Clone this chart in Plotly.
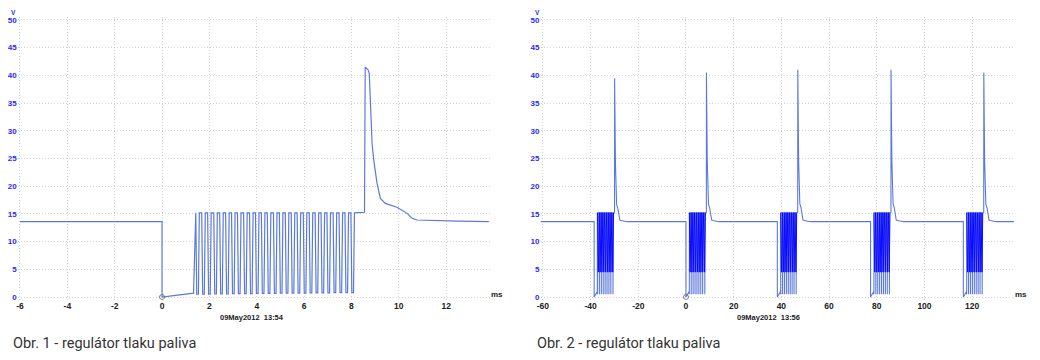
import plotly.graph_objects as go

# ---------------- data ----------------
# Obr. 1 : time (ms), voltage (V)
pre_t = [-6.0, 0.0, 0.0, 1.33]
pre_v = [13.6, 13.6, 0.0, 0.7]
pwm_high = 15.2
pwm_dips = [1.50, 1.75, 2.00, 2.26, 2.51, 2.76, 3.01, 3.26, 3.52, 3.77, 4.02, 4.27, 4.52, 4.78,
            5.03, 5.28, 5.53, 5.78, 6.04, 6.29, 6.54, 6.79, 7.04, 7.30, 7.55, 7.80, 8.05]
pwm_low = [0.5, 0.5, 0.5, 0.55, 0.55, 0.55, 0.6, 0.6, 0.6, 0.6, 0.65, 0.65, 0.65, 0.65,
           0.7, 0.7, 0.7, 0.7, 0.7, 0.75, 0.75, 0.75, 0.75, 0.8, 0.8, 0.8, 0.8]
post_t = [8.55, 8.58, 8.70, 8.75, 8.87, 8.94, 9.08, 9.22, 9.43, 9.92, 10.35, 10.56, 10.77, 11.3, 12.5, 13.8]
post_v = [15.3, 41.5, 41.0, 40.4, 27.7, 24.7, 20.5, 17.8, 16.9, 16.2, 15.1, 14.2, 13.9, 13.8, 13.7, 13.6]
base_v = 13.6

# Obr. 2 : bursts
burst_t0 = [-38.5, 0.0, 38.3, 77.4, 116.3]
burst_peak = [39.5, 40.5, 41.0, 41.0, 40.5]
burst_low_offsets = [1.4, 2.2, 3.0, 3.8, 4.6, 5.4, 6.2, 7.0, 7.9]
burst_low_v = 0.5
dense_low_v = 4.5

x1_ticks = [-6, -4, -2, 0, 2, 4, 6, 8, 10, 12]
x2_ticks = [-60, -40, -20, 0, 20, 40, 60, 80, 100, 120]
y_ticks = [0, 5, 10, 15, 20, 25, 30, 35, 40, 45, 50]

LINE = "#5b79dc"
DENSE = "#0a0aff"

# ---------------- build Obr. 1 ----------------
lt, lv = list(pre_t), list(pre_v)
for d, lo in zip(pwm_dips, pwm_low):
    lt += [d - 0.075, d - 0.035, d + 0.035, d + 0.075]
    lv += [pwm_high, lo, lo, pwm_high]
lt += post_t
lv += post_v

# ---------------- build Obr. 2 ----------------
peak0 = max(post_v)
rt, rv = [-61.0], [base_v]
dt, dv = [], []
for t0, pk in zip(burst_t0, burst_peak):
    rt += [t0, t0, t0 + pre_t[3]]
    rv += [base_v, 0.0, 1.0]
    for o in burst_low_offsets:
        rt += [t0 + o - 0.05, t0 + o, t0 + o + 0.05]
        rv += [pwm_high, burst_low_v, pwm_high]
    for pt, pv in zip(post_t, post_v):
        rt.append(t0 + pt)
        rv.append(base_v + (pv - base_v) * (pk - base_v) / (peak0 - base_v) if pv > pwm_high else pv)
    for d in pwm_dips:
        dt += [t0 + d - 0.075, t0 + d - 0.035, t0 + d + 0.035, t0 + d + 0.075]
        dv += [pwm_high, dense_low_v, dense_low_v, pwm_high]
    dt.append(None)
    dv.append(None)
rt.append(138.0)
rv.append(base_v)

fig = go.Figure()
fig.add_trace(go.Scatter(x=lt, y=lv, mode="lines", line=dict(color=LINE, width=1.2),
                         xaxis="x", yaxis="y", showlegend=False, hoverinfo="skip"))
fig.add_trace(go.Scatter(x=rt, y=rv, mode="lines", line=dict(color=LINE, width=1.1),
                         xaxis="x2", yaxis="y2", showlegend=False, hoverinfo="skip"))
fig.add_trace(go.Scatter(x=dt, y=dv, mode="lines", line=dict(color=DENSE, width=1.0),
                         xaxis="x2", yaxis="y2", showlegend=False, hoverinfo="skip"))
for xa, ya in (("x", "y"), ("x2", "y2")):
    fig.add_trace(go.Scatter(x=[0], y=[0], mode="markers",
                             marker=dict(symbol="circle-open", size=5, color="#777777", line=dict(width=1)),
                             xaxis=xa, yaxis=ya, showlegend=False, hoverinfo="skip"))

# page body has an 8px margin: figure is laid out in window coordinates minus 8px
OFF = 8
W, H = 1040 - OFF, 360 - OFF
def fx(x):
    return (x - OFF) / W
def fy(y):
    return (H - (y - OFF)) / H

grid = dict(showgrid=True, gridcolor="#d2d2d2", griddash="1px,2px", gridwidth=1,
            zeroline=False, showline=False, ticks="", automargin=False)
SMALL = "Liberation Sans"
xfont = dict(family=SMALL, size=8.5, color="#222222", weight="bold")
yfont = dict(family=SMALL, size=8, color="#2a2aff", weight="bold")
ydom = [fy(299.8), fy(17.2)]

fig.update_layout(
    width=W, height=H, autosize=False,
    margin=dict(l=0, r=0, t=0, b=0, pad=0),
    paper_bgcolor="white", plot_bgcolor="white",
    xaxis=dict(domain=[fx(17.6), fx(490.0)], range=[-6.1, 13.85], tickvals=x1_ticks,
               ticktext=[str(v) for v in x1_ticks], tickfont=xfont, anchor="y", **grid),
    yaxis=dict(domain=ydom, range=[-0.5, 50.5], tickvals=y_ticks, ticktext=[str(v) for v in y_ticks],
               tickfont=yfont, anchor="x", **grid),
    xaxis2=dict(domain=[fx(540.5), fx(1013.9)], range=[-61, 137.5], tickvals=x2_ticks,
                ticktext=[str(v) for v in x2_ticks], tickfont=xfont, anchor="y2", **grid),
    yaxis2=dict(domain=ydom, range=[-0.5, 50.5], tickvals=y_ticks, ticktext=[str(v) for v in y_ticks],
                tickfont=yfont, anchor="x2", **grid),
)

ann = []
def add(text, x, y, size, color, bold=False, xanchor="center", family=SMALL):
    ann.append(dict(text=text, x=fx(x), y=fy(y), xref="paper", yref="paper",
                    xanchor=xanchor, yanchor="middle", showarrow=False, borderpad=0,
                    font=dict(family=family, size=size, color=color,
                              weight="bold" if bold else "normal")))

add("V", 13, 12.2, 6.5, "#2a2aff", True)
add("V", 537, 12.2, 6.5, "#2a2aff", True)
add("ms", 497, 294, 8, "#222222", True)
add("ms", 1021, 294, 8, "#222222", True)
add("09May2012  13:54", 252, 317, 7.5, "#222222", True)
add("09May2012  13:56", 768, 317, 7.5, "#222222", True)
add("Obr. 1 - regulátor tlaku paliva", 12, 343, 14.5, "#333333", False, "left", "Roboto")
add("Obr. 2 - regulátor tlaku paliva", 536, 343, 14.5, "#333333", False, "left", "Roboto")
fig.update_layout(annotations=ann)

fig.write_html("out.html")
